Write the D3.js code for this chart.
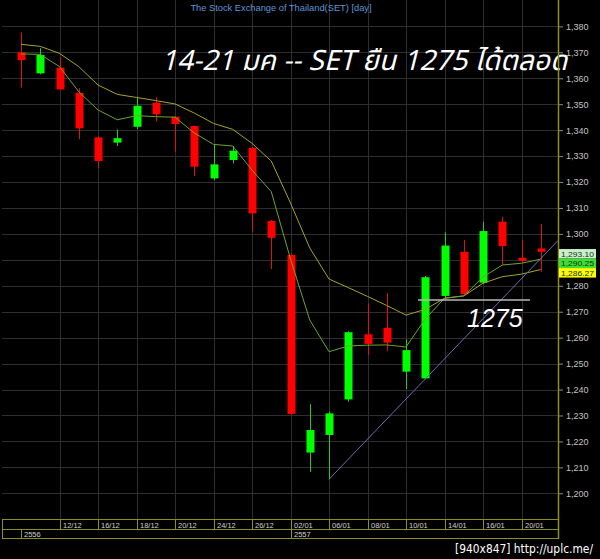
<!DOCTYPE html>
<html><head><meta charset="utf-8">
<script src="https://cdn.jsdelivr.net/npm/d3@7"></script>
<style>html,body{margin:0;padding:0;background:#000;} svg{display:block;}</style>
</head><body><svg id="c" width="600" height="559"></svg>
<script>
// ---------- data ----------
const dates = ["09/12","11/12","12/12","13/12","16/12","17/12","18/12","19/12","20/12","23/12","24/12","25/12","26/12","27/12","02/01","03/01","06/01","07/01","08/01","09/01","10/01","13/01","14/01","15/01","16/01","17/01","20/01","21/01"];
const openV  = [1370.0,1361.9,1364.1,1354.4,1337.2,1335.2,1341.3,1350.6,1345.2,1341.6,1321.4,1328.5,1333.2,1305.0,1291.9,1215.7,1222.5,1236.2,1261.3,1263.8,1246.9,1244.3,1276.1,1293.1,1281.2,1304.7,1290.8,1294.4];
const highV  = [1377.7,1371.6,1368.1,1356.2,1337.6,1340.3,1352.9,1352.7,1345.6,1341.8,1334.7,1333.9,1333.5,1305.4,1292.2,1234.4,1231.5,1262.5,1273.2,1277.1,1259.4,1283.8,1300.6,1297.7,1304.7,1306.6,1297.7,1303.8];
const lowV   = [1356.4,1361.5,1355.5,1336.5,1325.5,1333.9,1340.4,1343.3,1331.7,1322.4,1320.7,1327.2,1300.9,1286.4,1230.2,1208.3,1205.4,1235.3,1253.3,1254.9,1240.2,1243.9,1275.3,1276.5,1280.8,1288.0,1288.7,1285.4];
const closeV = [1367.0,1369.0,1355.7,1340.7,1328.1,1336.9,1349.4,1346.1,1342.4,1325.9,1326.8,1332.1,1307.9,1298.5,1230.6,1224.4,1230.8,1262.1,1257.6,1258.1,1255.2,1283.3,1295.5,1276.8,1301.1,1295.3,1289.6,1293.1];
const maFast = [1369.4,1369.2,1364.5,1354.8,1347.8,1344.0,1345.6,1345.2,1345.0,1338.9,1334.5,1333.9,1324.6,1316.3,1290.3,1266.8,1254.6,1256.8,1257.1,1257.2,1256.4,1267.2,1275.2,1276.1,1283.4,1288.0,1288.7,1290.25];
const maSlow = [1373.1,1372.3,1369.6,1364.5,1357.4,1353.8,1352.6,1351.4,1350.1,1346.6,1342.6,1340.3,1334.9,1328.1,1311.9,1294.6,1282.6,1279.3,1275.9,1272.4,1268.7,1270.9,1275.2,1276.1,1281.0,1283.5,1284.5,1286.27];
const tickDates = ["12/12","16/12","18/12","20/12","24/12","26/12","02/01","06/01","08/01","10/01","14/01","16/01","20/01"];
const yearLabels = ["2556","2557"];
const yearStarts = ["09/12","02/01"];
const yTicks = [1200,1210,1220,1230,1240,1250,1260,1270,1280,1290,1300,1310,1320,1330,1340,1350,1360,1370,1380];
const lastLabels = [1293.10, 1290.25, 1286.27];
const lastColors = ["#c8f0cc", "#3ee030", "#ffff00"];
const supportLevel = 1274.5;
const trendDates = ["06/01","21/01"];
const trendValues = [1205.4, 1290.5];
const chartTitle = "The Stock Exchange of Thailand(SET) [day]";
const headline = "14-21 มค -- SET ยืน 1275 ได้ตลอด";
const supportText = "1275";
const watermark = "[940x847] http://uplc.me/";

// ---------- layout ----------
const W = 600, H = 559;
const plotL = 2, plotR = 558, plotT = 0, plotB = 519;
const svg = d3.select("#c");
svg.append("rect").attr("width", W).attr("height", H).attr("fill", "#000");

const x = d3.scalePoint().domain(dates).range([21, 540.75]);
const y = d3.scaleLinear().domain([1200, 1380]).range([493.3, 26.4]);
const olive = "#8e8e1c";
const gridC = "#2e2e2e";

svg.append("clipPath").attr("id", "clip").append("rect")
  .attr("x", plotL).attr("y", plotT).attr("width", plotR - plotL).attr("height", plotB - plotT);

// grid
const grid = svg.append("g");
grid.selectAll("line.h").data(yTicks).join("line")
  .attr("x1", plotL).attr("x2", plotR)
  .attr("y1", d => Math.round(y(d)) + 0.5).attr("y2", d => Math.round(y(d)) + 0.5)
  .attr("stroke", gridC).attr("stroke-width", 1);
grid.selectAll("line.v").data(tickDates).join("line")
  .attr("x1", d => Math.round(x(d)) + 0.5).attr("x2", d => Math.round(x(d)) + 0.5)
  .attr("y1", plotT).attr("y2", plotB)
  .attr("stroke", gridC).attr("stroke-width", 1);

// title
svg.append("text").attr("x", 281).attr("y", 11).attr("text-anchor", "middle")
  .attr("fill", "#5f95d6").attr("font-family", "Liberation Sans, Arial, sans-serif")
  .attr("font-size", 9.3).text(chartTitle);

const plot = svg.append("g").attr("clip-path", "url(#clip)");

// candles
const idx = d3.range(dates.length);
const cg = plot.append("g");
idx.forEach(i => {
  const up = closeV[i] >= openV[i];
  const col = up ? "#00ff00" : "#ff0000";
  const cx = Math.round(x(dates[i]));
  cg.append("line").attr("x1", cx + 0.5).attr("x2", cx + 0.5)
    .attr("y1", y(highV[i])).attr("y2", y(lowV[i]))
    .attr("stroke", up ? "#22cc22" : "#dd1111").attr("stroke-width", 1);
  const top = y(Math.max(openV[i], closeV[i]));
  const bot = y(Math.min(openV[i], closeV[i]));
  cg.append("rect").attr("x", cx - 3.5).attr("width", 8)
    .attr("y", top).attr("height", Math.max(2, bot - top))
    .attr("fill", col);
});

// moving averages
const line = d3.line().x((d, i) => x(dates[i])).y(d => y(d));
plot.append("path").datum(maSlow).attr("d", line).attr("fill", "none")
  .attr("stroke", "#a8a22c").attr("stroke-width", 1);
plot.append("path").datum(maFast).attr("d", line).attr("fill", "none")
  .attr("stroke", "#6aa628").attr("stroke-width", 1);

// trend line (extended to right edge)
const tx0 = x(trendDates[0]), ty0 = y(trendValues[0]);
const tx1 = x(trendDates[1]), ty1 = y(trendValues[1]);
const slope = (ty1 - ty0) / (tx1 - tx0);
plot.append("line").attr("x1", tx0).attr("y1", ty0)
  .attr("x2", plotR).attr("y2", ty0 + slope * (plotR - tx0))
  .attr("stroke", "#6c6cb4").attr("stroke-width", 1);

// support line
plot.append("line").attr("x1", 418).attr("x2", 530)
  .attr("y1", y(supportLevel)).attr("y2", y(supportLevel))
  .attr("stroke", "#b8b8b8").attr("stroke-width", 1.5);

// headline texts
svg.append("text").attr("x", 161).attr("y", 70)
  .attr("fill", "#fff").attr("font-style", "italic")
  .attr("font-family", "'Noto Sans Thai', 'Liberation Sans', 'Noto Sans', sans-serif")
  .attr("font-size", 28).text(headline);
svg.append("text").attr("x", 467).attr("y", 327)
  .attr("fill", "#fff").attr("font-style", "italic")
  .attr("font-family", "'Liberation Sans', Arial, sans-serif")
  .attr("font-size", 25).text(supportText);

// last value label boxes (computed first so covered tick labels can be skipped)
const boxH = 9.5;
let prevBottom = -Infinity;
const boxes = lastLabels.map(v => {
  let cy = y(v) + 2;
  if (cy - boxH / 2 < prevBottom) cy = prevBottom + boxH / 2;
  prevBottom = cy + boxH / 2;
  return cy;
});
const boxTop = boxes[0] - boxH / 2, boxBot = boxes[boxes.length - 1] + boxH / 2;

// right axis
svg.append("line").attr("x1", plotR + 0.5).attr("x2", plotR + 0.5).attr("y1", 0).attr("y2", 538.5)
  .attr("stroke", olive).attr("stroke-width", 1.5);
const ax = svg.append("g").attr("transform", `translate(${plotR + 1},0)`)
  .call(d3.axisRight(y).tickValues(yTicks).tickFormat(d3.format(",")).tickSize(4).tickPadding(3));
ax.select(".domain").remove();
ax.selectAll(".tick line").attr("stroke", "#8a8a8a");
ax.selectAll(".tick text").attr("fill", "#c4c4c4")
  .attr("font-family", "Liberation Sans, Arial, sans-serif").attr("font-size", 9);
ax.selectAll(".tick").filter(d => y(d) > boxTop - 4 && y(d) < boxBot + 4).select("text").remove();

lastLabels.forEach((v, k) => {
  const cy = boxes[k];
  svg.append("rect").attr("x", plotR + 1).attr("y", cy - boxH / 2).attr("width", 37).attr("height", boxH)
    .attr("fill", lastColors[k]);
  svg.append("text").attr("x", plotR + 3).attr("y", cy + 3)
    .attr("fill", "#103010").attr("font-family", "Liberation Sans, Arial, sans-serif")
    .attr("font-size", 8).attr("textLength", 33).attr("lengthAdjust", "spacingAndGlyphs")
    .text(d3.format(",.2f")(v));
});

// bottom date boxes
const bx = svg.append("g");
bx.append("rect").attr("x", plotL + 0.5).attr("y", 519.5).attr("width", plotR - plotL).attr("height", 19)
  .attr("fill", "none").attr("stroke", olive);
bx.append("line").attr("x1", plotL + 0.5).attr("x2", plotR + 0.5).attr("y1", 529.5).attr("y2", 529.5)
  .attr("stroke", olive);
tickDates.forEach(d => {
  const px = Math.round(x(d)) + 0.5;
  bx.append("line").attr("x1", px).attr("x2", px).attr("y1", 519.5).attr("y2", 529.5).attr("stroke", olive);
  bx.append("text").attr("x", px + 2.5).attr("y", 527.5).attr("fill", "#d0d0d0")
    .attr("font-family", "Liberation Sans, Arial, sans-serif").attr("font-size", 7.5).text(d);
});
yearStarts.forEach((d, k) => {
  const px = Math.round(x(d)) + 0.5;
  bx.append("line").attr("x1", px).attr("x2", px).attr("y1", 529.5).attr("y2", 538.5).attr("stroke", olive);
  bx.append("text").attr("x", px + 2.5).attr("y", 537).attr("fill", "#d0d0d0")
    .attr("font-family", "Liberation Sans, Arial, sans-serif").attr("font-size", 7.5).text(yearLabels[k]);
});

// watermark
svg.append("text").attr("x", 455).attr("y", 553).attr("fill", "#fff")
  .attr("font-family", "'DejaVu Sans Condensed', 'DejaVu Sans', sans-serif")
  .attr("font-size", 12.5).attr("textLength", 138).attr("lengthAdjust", "spacingAndGlyphs")
  .text(watermark);
</script></body></html>
